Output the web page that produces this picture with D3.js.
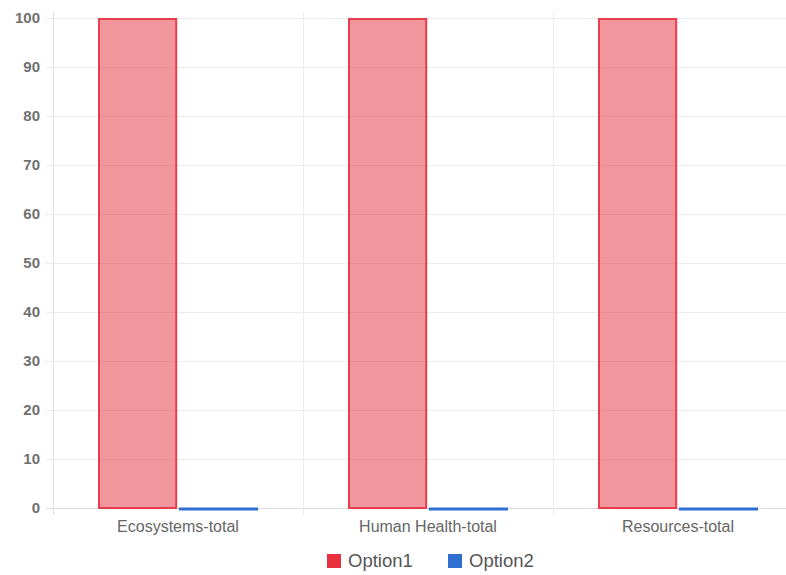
<!DOCTYPE html>
<html>
<head>
<meta charset="utf-8">
<script src="https://cdn.jsdelivr.net/npm/d3@7"></script>
<style>
  html, body { margin: 0; padding: 0; background: #fff; }
  svg { display: block; font-family: "Liberation Sans", Arial, sans-serif; }
</style>
</head>
<body>
<svg id="chart" width="786" height="575"></svg>
<script>
// Chart data
const categories = ["Ecosystems-total", "Human Health-total", "Resources-total"];
const seriesNames = ["Option1", "Option2"];
const option1Values = [100, 100, 100];
const option2Values = [0, 0, 0];
const yTicks = [0, 10, 20, 30, 40, 50, 60, 70, 80, 90, 100];

const seriesFill = ["rgba(230,45,60,0.5)", "rgba(47,111,207,0.5)"];
const seriesStroke = ["rgb(232,62,76)", "rgb(47,111,207)"];
const legendSwatch = ["#e8303f", "#2e6fcf"];

const svg = d3.select("#chart");
const margin = { left: 53, top: 18, bottom: 67 };
const plotW = 750;
const height = 575;
const x0 = margin.left, x1 = margin.left + plotW;
const yTop = margin.top, yBottom = height - margin.bottom;

const x = d3.scaleBand().domain(categories).range([x0, x1]).paddingInner(0).paddingOuter(0);
const bw = x.bandwidth();
const xs = d3.scaleBand().domain(seriesNames).range([bw * 0.18, bw * 0.82]).paddingInner(0.02).paddingOuter(0);
const y = d3.scaleLinear().domain([0, 100]).range([yBottom, yTop]);

// Horizontal grid lines (extend left as tick marks)
svg.append("g").selectAll("line").data(yTicks).join("line")
  .attr("x1", x0 - 7).attr("x2", 786)
  .attr("y1", d => Math.round(y(d)) + 0.5).attr("y2", d => Math.round(y(d)) + 0.5)
  .attr("stroke", d => d === 0 ? "#dcdcdc" : "#ececec").attr("stroke-width", 1);

// Vertical grid lines at category boundaries
const vLines = [x0].concat(categories.map(c => x(c) + bw));
svg.append("g").selectAll("line").data(vLines).join("line")
  .attr("x1", d => Math.round(d) + 0.5).attr("x2", d => Math.round(d) + 0.5)
  .attr("y1", yTop - 6).attr("y2", yBottom + 7)
  .attr("stroke", (d, i) => i === 0 ? "#e2e2e2" : "#ececec").attr("stroke-width", 1);

// Y-axis labels
svg.append("g").selectAll("text").data(yTicks).join("text")
  .attr("x", x0 - 13).attr("y", d => y(d)).attr("dy", "0.35em")
  .attr("text-anchor", "end").attr("font-size", 15).attr("font-weight", "bold")
  .attr("fill", "#707070").text(d => d);

// X-axis labels
svg.append("g").selectAll("text").data(categories).join("text")
  .attr("x", d => x(d) + bw / 2).attr("y", yBottom + 24)
  .attr("text-anchor", "middle").attr("font-size", 16)
  .attr("fill", "#666").text(d => d);

// Bars
const series = [option1Values, option2Values];
series.forEach((vals, si) => {
  svg.append("g").selectAll("rect").data(vals).join("rect")
    .attr("x", (d, i) => x(categories[i]) + xs(seriesNames[si]) + 1)
    .attr("width", xs.bandwidth() - 2)
    .attr("y", d => y(d) + 1)
    .attr("height", d => Math.max(0, y(0) - y(d) - 1))
    .attr("fill", seriesFill[si])
    .attr("stroke", seriesStroke[si]).attr("stroke-width", 2);
  // zero-height bars still show their top border
  svg.append("g").selectAll("line").data(vals.map((v, i) => [v, i]).filter(p => p[0] === 0)).join("line")
    .attr("x1", p => x(categories[p[1]]) + xs(seriesNames[si]))
    .attr("x2", p => x(categories[p[1]]) + xs(seriesNames[si]) + xs.bandwidth())
    .attr("y1", p => y(p[0]) + 1).attr("y2", p => y(p[0]) + 1)
    .attr("stroke", seriesStroke[si]).attr("stroke-width", 3);
});

// Legend
const legend = svg.append("g");
const legendX = [327, 448];
seriesNames.forEach((name, i) => {
  legend.append("rect").attr("x", legendX[i]).attr("y", 554).attr("width", 14).attr("height", 14)
    .attr("fill", legendSwatch[i]);
  legend.append("text").attr("x", legendX[i] + 21).attr("y", 561).attr("dy", "0.35em")
    .attr("font-size", 18.5).attr("fill", "#555").text(name);
});
</script>
</body>
</html>
